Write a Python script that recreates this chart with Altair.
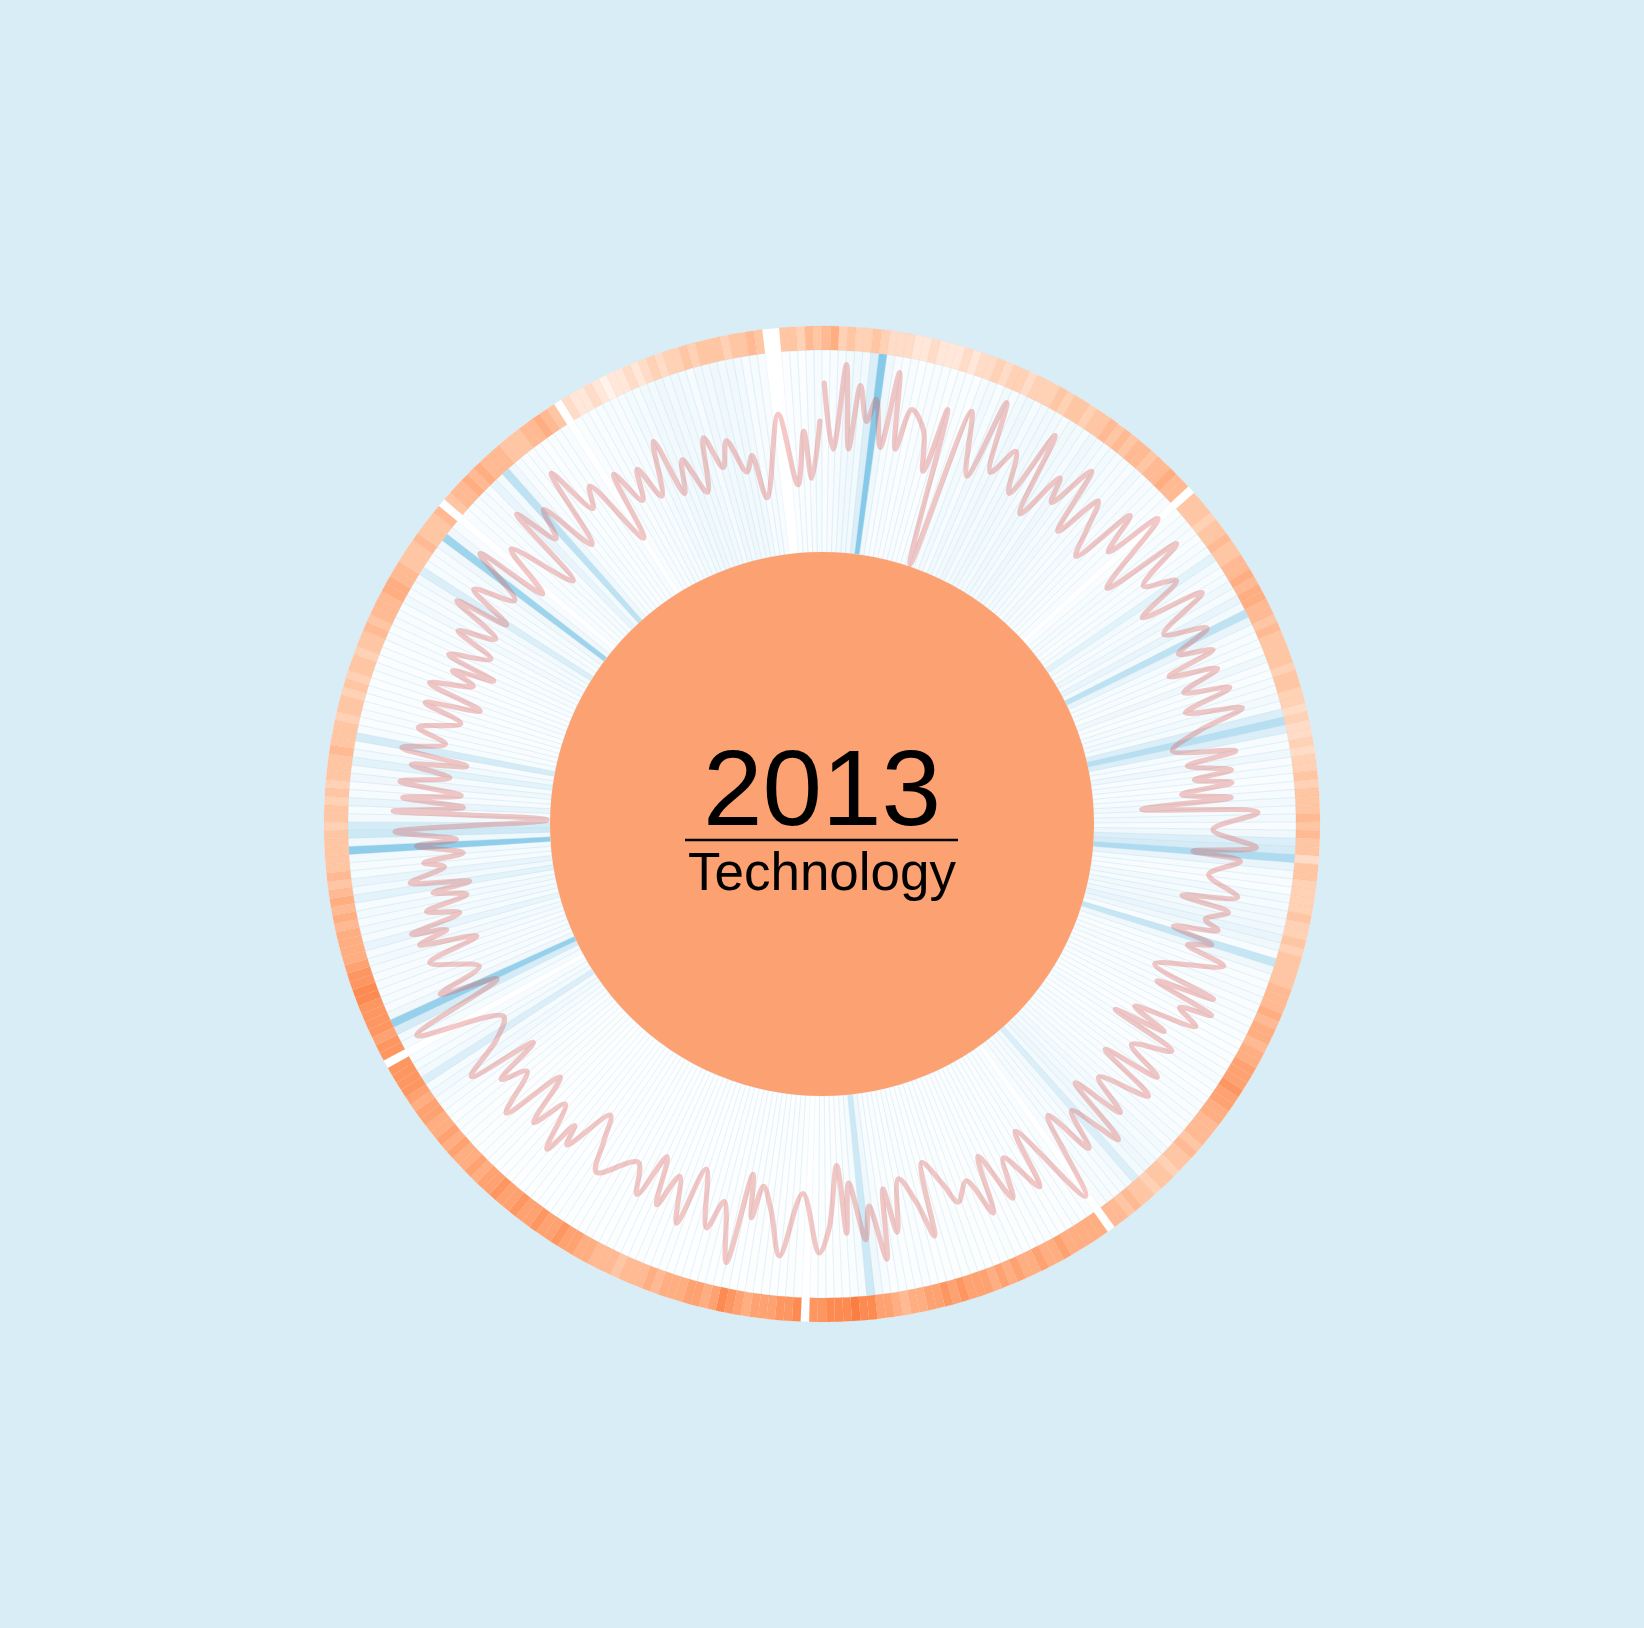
import math
import altair as alt
import pandas as pd

# ---------------- data ----------------
YEAR = "2013"
SECTOR = "Technology"
N_DAYS = 365

# daily intensity of the blue spokes (percent); None = no data that day
spoke_pct = (
    [6, 8, 10, 12, 14, 12, 30, 85, 15, 8]
    + [6, 8, 5, 6, 8, 6, 5, 8, 6, 5]
    + [10, 12, 8, 14, 10, 12, 15, 10, 12, 14]
    + [12, 10, 14, 12, 10, 15, 12, 10, 12, 10]
    + [10, 8, 12, 8, 10, 8, 6, 8, None, 6]
    + [8, 10, 8, 6, 8, 10, 25, 12, 8, 10]
    + [15, 10, 20, 12, 50, 20, 10, 8, 10, 6]
    + [15, 8, 6, 10, 8, 12, 10, 30, 55, 30]
    + [10, 8, 15, 8, 10, 6, 8, 10, 12, 10]
    + [12, 8, 15, 30, 35, 60, 20, 10, 8, 6]
    + [12, 10, 14, 12, 15, 20, 15, 8, 45, 15]
    + [8, 6, 8, 10, 6, 8, 6, 8, 6, 5]
    + [5, 6, 5, 6, 8, 6, 5, 6, 8, 6]
    + [8, 6, 8, 10, 8, 12, 10, 12, 15, 12]
    + [30, 12, 10, 8, 10, 8, None, 6, 5, 6]
    + [5, 4, 5, 6, 4, 5, 4, 5, 6, 4]
    + [4, 5, 4, 6, 4, 5, 4, 4, 5, 6]
    + [5, 4, 6, 5, 8, 15, 40, 10, 6, 4]
    + [4, 3, 4, 3, None, 3, 4, 3, 3, 4]
    + [3, 4, 3, 3, 4, 3, 3, 4, 3, 3]
    + [3, 3, 4, 3, 3, 4, 3, 3, 3, 4]
    + [3, 3, 4, 3, 3, 3, 4, 3, 3, 3]
    + [3, 4, 3, 3, 4, 3, 3, 4, 5, 4]
    + [4, 5, 4, 6, 5, 6, 8, 10, 12, 10]
    + [30, 12, 10, 8, None, 10, 12, 35, 75, 15]
    + [8, 10, 8, 10, 8, 10, 12, 10, 20, 10]
    + [12, 10, 12, 10, 25, 12, 20, 10, 10, 12]
    + [80, 15, 40, 35, 12, 10, 20, 10, 8, 15]
    + [10, 25, 12, 8, 35, 10, 6, 8, 6, 5]
    + [6, 5, 6, 8, 5, 6, 5, 8, 6, 8]
    + [8, 6, 12, 8, 10, 12, 30, 10, 8, 10]
    + [15, 70, 15, 8, None, 8, 6, 8, 10, 8]
    + [20, 12, 50, 15, 8, 6, 8, 6, 5, 6]
    + [6, 8, None, 6, 8, 6, 8, 10, 8, 10]
    + [12, 10, 14, 12, 15, 12, 14, 12, 10, 14]
    + [12, 15, 12, 14, 12, 8, 10, 8, None, None]
    + [5, 6, 5, 8, 10]
)

# daily level of the outer orange ring (0..10); None = no data that day
ring_level = (
    [5, 6, 3, 4, 3, 3, 4, 3, 2, 2]
    + [2, 1, 1, 2, 1, 1, 1, 2, 1, 2]
    + [2, 3, 2, 3, 3, 2, 3, 3, 3, 4]
    + [3, 4, 4, 3, 4, 4, 5, 4, 5, 4]
    + [5, 5, 4, 5, 5, 6, 5, 5, None, 4]
    + [4, 4, 3, 4, 4, 5, 4, 4, 5, 5]
    + [6, 5, 6, 6, 5, 5, 4, 5, 4, 4]
    + [4, 4, 3, 4, 4, 3, 3, 2, 3, 2]
    + [2, 3, 2, 3, 3, 4, 3, 4, 4, 4]
    + [5, 4, 5, 4, 4, 2, 4, 4, 3, 3]
    + [3, 3, 4, 3, 3, 4, 3, 4, 4, 4]
    + [4, 5, 5, 5, 6, 5, 6, 6, 5, 6]
    + [6, 7, 7, 7, 8, 7, 7, 6, 6, 5]
    + [5, 5, 4, 5, 4, 4, 3, 4, 4, 3]
    + [4, 4, 5, 4, 5, 5, None, 6, 6, 6]
    + [6, 6, 7, 6, 6, 7, 6, 6, 7, 6]
    + [7, 6, 7, 7, 7, 8, 7, 8, 7, 7]
    + [6, 6, 5, 6, 7, 7, 9, 9, 10, 9]
    + [9, 9, 8, 8, None, 9, 8, 8, 7, 7]
    + [7, 6, 7, 8, 9, 7, 6, 7, 7, 6]
    + [6, 6, 5, 6, 5, 5, 5, 4, 5, 5]
    + [5, 6, 6, 7, 7, 8, 7, 7, 8, 7]
    + [7, 8, 7, 7, 8, 7, 7, 6, 7, 6]
    + [6, 7, 6, 7, 6, 6, 7, 7, 6, 7]
    + [8, 8, 8, 8, None, 8, 8, 7, 8, 8]
    + [8, 8, 9, 9, 8, 8, 7, 6, 6, 6]
    + [6, 5, 6, 5, 6, 5, 4, 5, 4, 4]
    + [4, 4, 4, 3, 4, 4, 3, 4, 3, 4]
    + [4, 4, 5, 4, 4, 4, 3, 4, 4, 3]
    + [4, 3, 4, 4, 3, 4, 4, 5, 4, 5]
    + [5, 5, 6, 6, 5, 5, 4, 4, 4, 5]
    + [4, 4, 4, 5, None, 4, 5, 5, 6, 5]
    + [6, 5, 5, 5, 4, 4, 4, 5, 5, 6]
    + [5, 4, None, 2, 1, 1, 2, 1, 0, 1]
    + [1, 2, 1, 2, 3, 2, 3, 3, 4, 3]
    + [4, 4, 4, 3, 4, 4, 5, 4, None, None]
    + [4, 4, 3, 5, 4]
)

# red index line: day of year and value (0..100)
line_day = [
    0.3, 1.7, 3.1, 4.1, 5.1, 6.4, 7.4, 8.9, 9.9, 11.2, 12.4, 14.7, 16.2, 17.1, 19.0, 20.2,
    22.9, 24.0, 25.9, 27.9, 29.9, 31.4, 33.0, 35.0, 36.0, 37.9, 39.4, 41.1, 42.6, 44.1,
    45.6, 47.1, 48.4, 51.1, 52.4, 54.2, 56.3, 58.0, 59.5, 61.8, 63.9, 65.4, 66.9, 67.9,
    69.5, 71.0, 72.5, 74.0, 75.6, 77.1, 79.3, 81.1, 82.1, 83.6, 84.4, 85.4, 86.5, 87.5,
    88.6, 89.7, 92.1, 94.4, 95.5, 96.4, 98.8, 101.4, 102.6, 103.7, 105.4, 106.5, 107.7,
    108.7, 109.8, 111.0, 114.4, 115.7, 116.7, 117.8, 118.8, 120.1, 121.9, 122.9, 124.0,
    124.7, 127.2, 128.8, 130.3, 131.6, 134.3, 135.9, 137.5, 138.7, 140.9, 142.5, 144.2,
    146.7, 149.9, 151.1, 153.6, 155.1, 157.0, 158.4, 160.2, 162.4, 163.7, 165.9, 167.0,
    168.3, 170.2, 171.9, 172.9, 173.9, 175.4, 176.4, 178.2, 179.0, 180.0, 181.5, 182.9,
    185.5, 188.2, 190.1, 191.8, 192.8, 193.8, 195.0, 197.2, 198.7, 201.3, 202.8, 204.8,
    206.3, 207.8, 209.4, 211.4, 215.9, 217.5, 219.0, 221.5, 222.4, 223.3, 225.6, 227.1,
    229.1, 230.7, 233.2, 234.7, 236.1, 237.5, 239.8, 242.2, 245.8, 247.9, 249.4, 250.9,
    254.0, 255.5, 256.8, 257.8, 258.5, 259.8, 261.1, 262.4, 263.6, 264.4, 265.5, 267.2,
    268.1, 269.1, 270.6, 271.3, 272.7, 274.6, 275.5, 276.4, 277.4, 278.3, 279.6, 280.9,
    282.1, 283.1, 284.2, 285.9, 287.4, 289.5, 291.0, 292.3, 293.8, 295.6, 296.6, 297.6,
    298.5, 300.6, 302.1, 303.7, 305.6, 306.5, 308.2, 310.3, 312.6, 313.8, 315.8, 318.7,
    319.8, 321.4, 322.9, 325.0, 326.8, 328.5, 330.0, 332.6, 333.8, 335.6, 337.1, 338.6,
    340.9, 342.1, 343.7, 345.7, 347.7, 349.3, 350.8, 352.8, 354.1, 355.3, 358.8, 360.9,
    362.3, 363.3, 364.7,
]
line_value = [
    84.5, 51.5, 94, 52, 84, 66.5, 78, 54.5, 93, 55, 76, 67, 47.5, 80.5, 1, 83.5,
    52.5, 94, 59, 74, 54, 90.5, 48, 74, 61.5, 86, 52, 76.5, 61.5, 48.5,
    82, 61.5, 91, 49, 90, 64, 79, 54.5, 86.5, 59.5, 80, 61.5, 78, 52.5,
    76.5, 56.5, 79, 54, 82, 59, 43, 74, 49, 70.5, 51.5, 70, 44.5, 69,
    24, 82, 59.5, 81.5, 50, 74, 59, 75, 47.5, 72, 61.5, 69, 47,
    68, 56.5, 77, 44.5, 78.5, 49, 81, 65, 76.5, 45, 64, 37.5,
    72.5, 54, 74, 45, 76.5, 51.5, 71.5, 45, 80.5, 54, 74, 48.5,
    92, 45.5, 75.5, 54, 74, 47.5, 76.5, 56.5, 65, 54, 40.5, 77.5,
    59, 45.5, 71.5, 49, 84, 56.5, 73, 44, 69, 35, 66.5, 78.5,
    49, 81, 59, 47.5, 64, 42.5, 88.5, 59, 74, 46, 76.5, 54,
    71.5, 47.5, 71, 56.5, 71.5, 56.5, 44, 69, 59, 77, 54, 71.5,
    46, 78, 56.5, 69, 45, 80, 59, 50, 92.5, 44, 73, 49.5,
    72, 45.5, 74, 59, 76.5, 50.5, 66.5, 45, 61.5, 42.5, 72, 54,
    64, 44, 67, 47, 77.5, 1.5, 78.5, 43.5, 74, 45, 76, 51.5,
    71.5, 44, 77.5, 56.5, 71.5, 51.5, 71.5, 44, 72.5, 51.5, 64, 43,
    69, 49, 70, 51.5, 78, 50.5, 74, 54, 82, 45, 71.5, 38,
    81.5, 59, 74, 45, 85.5, 59, 69, 32.5, 67.5, 49, 64, 46.5,
    73, 43, 59, 39.5, 66, 49, 61.5, 44, 51.5, 29.5, 70, 34,
    60.5, 37, 65.5,
]

# ---------------- geometry / style ----------------
W, H = 1644, 1628
CX, CY = 822, 824
R_IN, R_SPOKE, R_OUT = 272, 474, 498
TWO_PI = 2 * math.pi

days_df = pd.DataFrame({
    "day": list(range(N_DAYS)),
    "spoke": spoke_pct,
    "ring": ring_level,
}).dropna()
days_df["end"] = days_df["day"] + 1

theta_scale = alt.Scale(domain=[0, N_DAYS], range=[0, TWO_PI])
one = pd.DataFrame({"k": [1]})

disc = alt.Chart(one).mark_arc(
    radius=R_OUT, theta=0, theta2=TWO_PI, color="white"
).encode(x=alt.value(CX), y=alt.value(CY))

spokes = alt.Chart(days_df).mark_arc(
    radius=R_SPOKE, radius2=R_IN, fill="#6cbde3",
    stroke="#bfe0f1", strokeWidth=0.5, strokeOpacity=0.45,
).encode(
    theta=alt.Theta("day:Q", scale=theta_scale, stack=False),
    theta2="end:Q",
    fillOpacity=alt.FillOpacity(
        "spoke:Q", scale=alt.Scale(type="pow", exponent=1.2, domain=[0, 100], range=[0, 1]), legend=None
    ),
    x=alt.value(CX), y=alt.value(CY),
)

ring = alt.Chart(days_df).mark_arc(
    radius=R_OUT, radius2=R_SPOKE, stroke="#e8895a", strokeWidth=0.3, strokeOpacity=0.25,
).encode(
    theta=alt.Theta("day:Q", scale=theta_scale, stack=False),
    theta2="end:Q",
    color=alt.Color("ring:Q", scale=alt.Scale(domain=[0, 10], range=["#fff3ec", "#fa7d41"]), legend=None),
    x=alt.value(CX), y=alt.value(CY),
)

line_df = pd.DataFrame({"day": line_day, "value": line_value})
line = alt.Chart(line_df).transform_calculate(
    ang=f"datum.day / {N_DAYS} * 2 * PI",
    rad=f"{R_IN} + datum.value * 2",
    px="datum.rad * sin(datum.ang)",
    py="datum.rad * cos(datum.ang)",
).mark_line(
    color="#d9534f", opacity=0.32, strokeWidth=5.2, interpolate="catmull-rom",
    strokeCap="round", strokeJoin="round",
).encode(
    x=alt.X("px:Q", scale=alt.Scale(domain=[-CX, W - CX]), axis=None),
    y=alt.Y("py:Q", scale=alt.Scale(domain=[-(H - CY), CY]), axis=None),
    order=alt.Order("day:Q"),
)

center = alt.Chart(one).mark_arc(
    radius=R_IN, theta=0, theta2=TWO_PI, color="#fca172"
).encode(x=alt.value(CX), y=alt.value(CY))

rule = alt.Chart(one).mark_rule(color="black", strokeWidth=2.5).encode(
    x=alt.value(685), x2=alt.value(958), y=alt.value(840)
)

year_text = alt.Chart(pd.DataFrame({"t": [YEAR]})).mark_text(
    font="Liberation Sans", fontSize=107, align="center", baseline="alphabetic", color="black"
).encode(text="t:N", x=alt.value(CX), y=alt.value(825))

sector_text = alt.Chart(pd.DataFrame({"t": [SECTOR]})).mark_text(
    font="Liberation Sans", fontSize=53, align="center", baseline="alphabetic", color="black"
).encode(text="t:N", x=alt.value(CX), y=alt.value(890))

chart = alt.layer(
    disc, spokes, ring, line, center, rule, year_text, sector_text
).properties(
    width=W, height=H, background="#d9edf7", padding=0, autosize="none"
).configure_view(strokeWidth=0)

chart.save("out.html", embed_options={"renderer": "svg", "actions": False})
